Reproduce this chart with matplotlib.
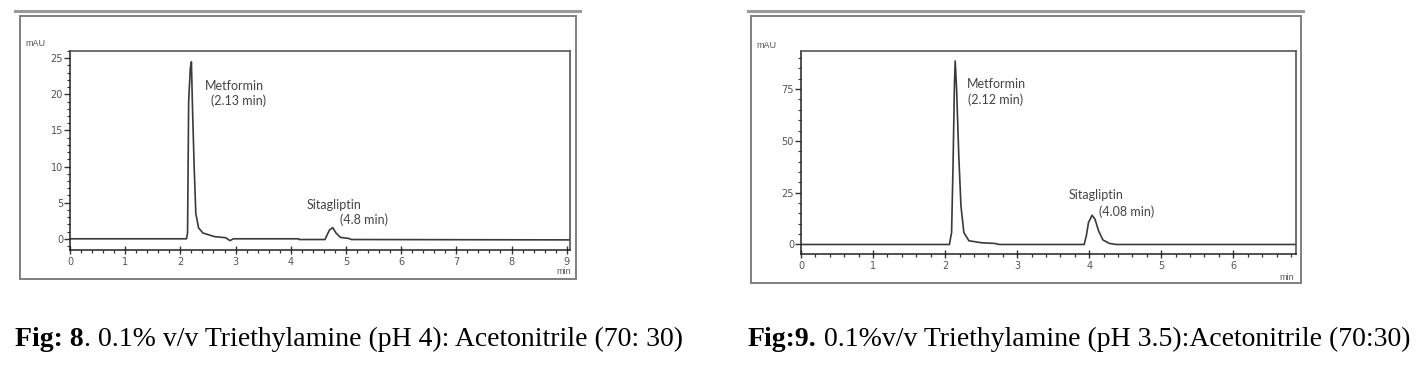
import matplotlib.pyplot as plt
from matplotlib.patches import Rectangle
from matplotlib.lines import Line2D
from matplotlib.ticker import MultipleLocator

W, H = 1417, 367

# Fig 8 chromatogram (min, mAU)
t8 = [0.0, 2.11, 2.13, 2.15, 2.18, 2.20, 2.22, 2.25, 2.28, 2.33, 2.41, 2.62, 2.82,
      2.90, 2.96, 4.14, 4.15, 4.62, 4.70, 4.76, 4.82, 4.90, 5.05, 5.10, 9.06]
s8 = [0.0, 0.0, 0.8, 19.0, 23.6, 24.5, 18.0, 9.9, 3.5, 1.5, 0.8, 0.3, 0.15,
      -0.25, 0.0, 0.0, -0.1, -0.1, 1.2, 1.55, 0.8, 0.2, 0.05, -0.1, -0.15]

# Fig 9 chromatogram
t9 = [0.0, 2.06, 2.09, 2.11, 2.13, 2.14, 2.16, 2.19, 2.22, 2.26, 2.33, 2.51, 2.69,
      2.75, 3.93, 3.96, 3.99, 4.04, 4.08, 4.13, 4.19, 4.28, 4.37, 6.87]
s9 = [0.0, 0.0, 5.8, 38.0, 78.0, 88.6, 74.7, 42.6, 18.6, 5.8, 1.8, 0.8, 0.5,
      0.0, 0.0, 4.2, 10.6, 14.1, 12.2, 6.6, 2.2, 0.5, 0.0, 0.0]

names = ['Metformin', 'Sitagliptin']
rt8 = ['(2.13 min)', '(4.8 min)']
rt9 = ['(2.12 min)', '(4.08 min)']
yt8 = [0, 5, 10, 15, 20, 25]
yt9 = [0, 25, 50, 75]


def fx(px):
    return px / W


def fy(py):
    return 1 - py / H


fig = plt.figure(figsize=(W / 100, H / 100), dpi=100)

# outer frames and the double rule above each
for x0, x1, y0, y1 in [(20, 576, 16, 279), (751, 1301, 16, 283)]:
    fig.add_artist(Rectangle((fx(x0), fy(y1)), fx(x1 - x0), (y1 - y0) / H,
                             transform=fig.transFigure, fill=False,
                             edgecolor='#7f7f7f', lw=1.4))
for x0, x1 in [(15, 580), (748, 1303)]:
    fig.add_artist(Line2D([fx(x0), fx(x1)], [fy(11), fy(11)],
                          transform=fig.transFigure, color='#9a9a9a', lw=2.2))


def panel(box, t, s, xmax, ylim, yticks, ymin_step, labels, lab_pos):
    x0, x1, y0, y1 = box
    ax = fig.add_axes([fx(x0), fy(y1), fx(x1 - x0), (y1 - y0) / H])
    ax.plot(t, s, color='#3a3a3a', lw=1.2)
    ax.set_xlim(0, xmax)
    ax.set_ylim(*ylim)
    ax.set_xticks(range(0, int(xmax) + 1))
    ax.xaxis.set_minor_locator(MultipleLocator(0.2))
    ax.set_yticks(yticks)
    ax.yaxis.set_minor_locator(MultipleLocator(ymin_step))
    for sp in ['top', 'right']:
        ax.spines[sp].set_color('#555555')
        ax.spines[sp].set_linewidth(1.2)
    for sp in ['left', 'bottom']:
        ax.spines[sp].set_color('#222222')
        ax.spines[sp].set_linewidth(1.1)
    ax.tick_params(axis='x', which='major', direction='inout', length=6, width=1,
                   color='#333333', labelsize=7, labelcolor='#555555', pad=2)
    ax.tick_params(axis='x', which='minor', direction='out', length=2.5, width=0.9,
                   color='#333333')
    ax.tick_params(axis='y', which='major', direction='out', length=4, width=1,
                   color='#333333', labelsize=7, labelcolor='#555555', pad=1)
    ax.tick_params(axis='y', which='minor', direction='out', length=2, width=0.8,
                   color='#333333')
    for lab, (px, py) in zip(labels, lab_pos):
        ax.text(px, py, lab, ha='left', va='center', fontsize=9,
                family='Lato', color='#444444')
    return ax


panel((70, 570, 51, 250), t8, s8, 9.06, (-1.55, 26.0), yt8, 1,
      [names[0], rt8[0], names[1], rt8[1]],
      [(2.45, 21.1), (2.55, 19.1), (4.29, 4.7), (4.89, 2.6)])
panel((801, 1296, 51, 254), t9, s9, 6.87, (-4.6, 93.4), yt9, 5,
      [names[0], rt9[0], names[1], rt9[1]],
      [(2.30, 77.3), (2.32, 70.0), (3.72, 24.0), (4.13, 16.0)])

# axis captions
for px, py, txt in [(35, 44, 'mAU'), (766, 45, 'mAU'), (564, 272, 'min'), (1287, 277, 'min')]:
    fig.text(fx(px), fy(py), txt, ha='center', va='center', fontsize=6.5,
             family='Liberation Sans', color='#555555')

# figure captions, bold prefix then regular text
renderer = fig.canvas.get_renderer()
for px, bold, rest in [(15, 'Fig: 8', '. 0.1% v/v Triethylamine (pH 4): Acetonitrile (70: 30)'),
                       (748, 'Fig:9.', ' 0.1%v/v Triethylamine (pH 3.5):Acetonitrile (70:30)')]:
    t1 = fig.text(fx(px), fy(339), bold, ha='left', va='center', fontsize=20,
                  family='Liberation Serif', weight='bold')
    bb = t1.get_window_extent(renderer)
    fig.text(bb.x1 / W, fy(339), rest, ha='left', va='center', fontsize=20,
             family='Liberation Serif')

fig.savefig('out.png', dpi=100)
